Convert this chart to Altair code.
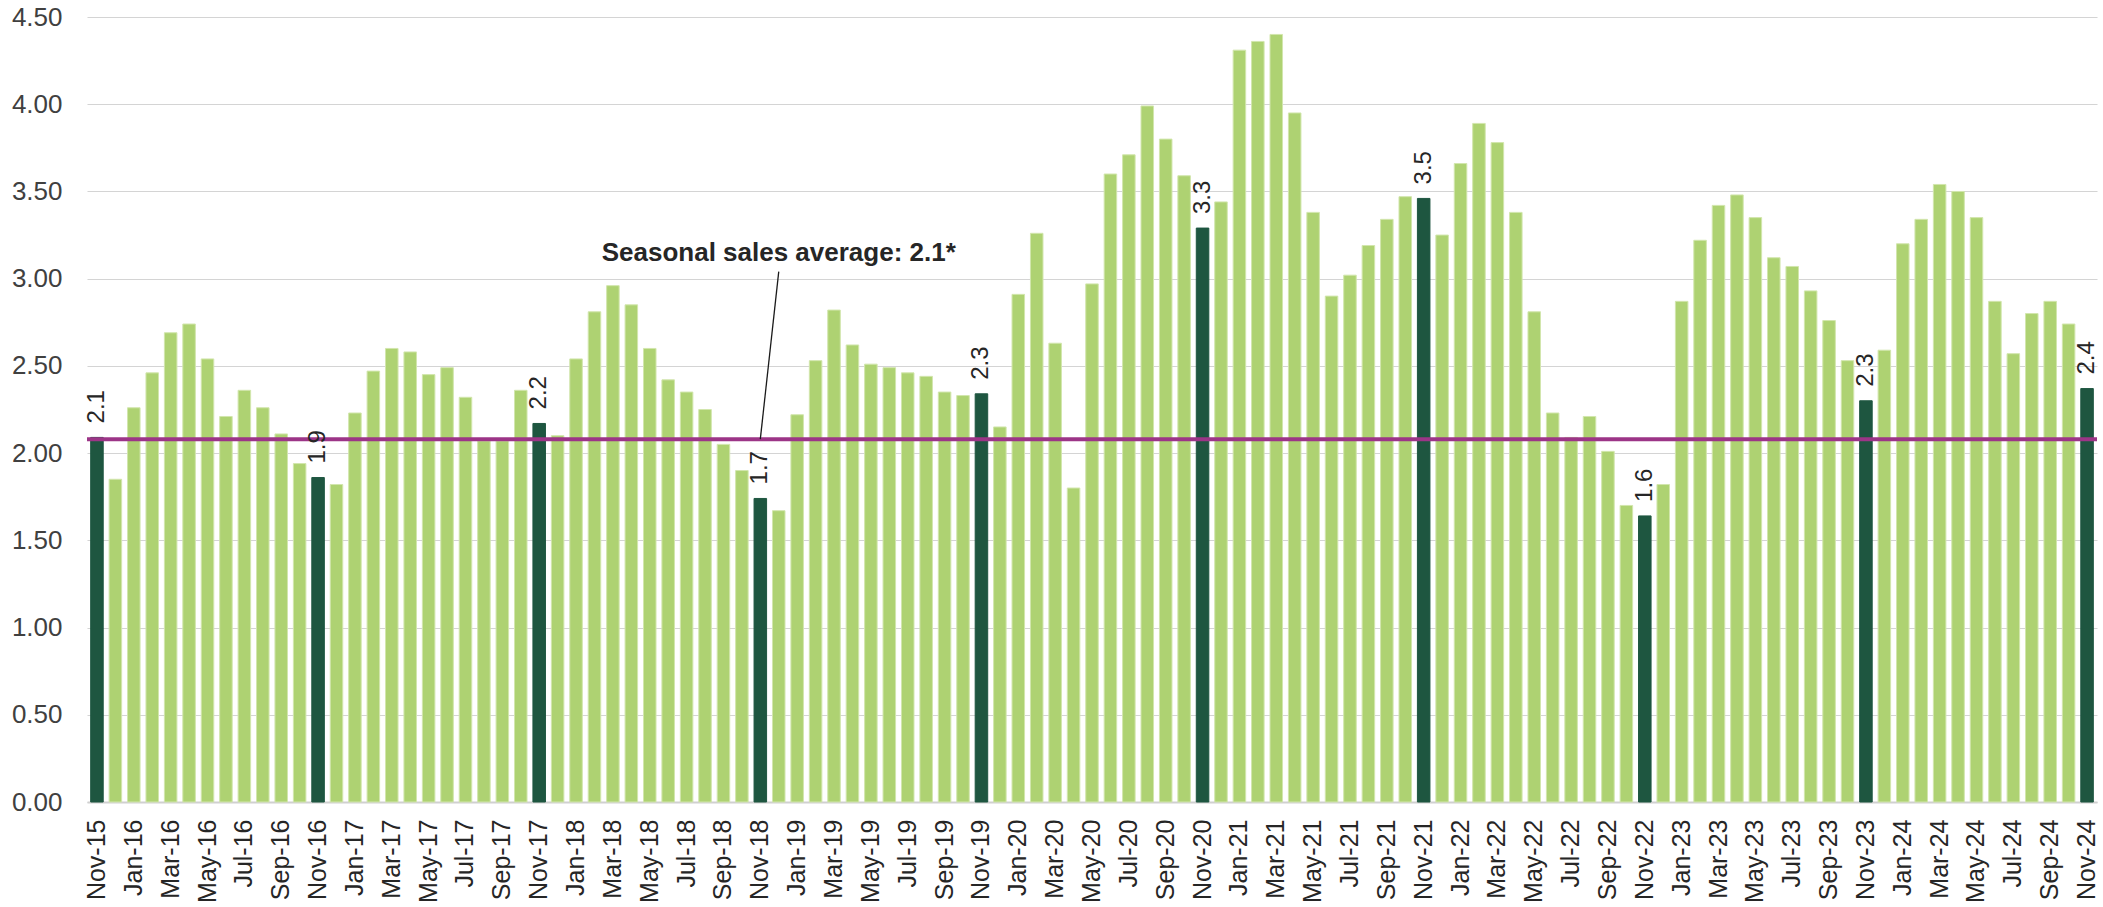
import altair as alt
import pandas as pd

MONTH_ABBR = ["Jan", "Feb", "Mar", "Apr", "May", "Jun",
              "Jul", "Aug", "Sep", "Oct", "Nov", "Dec"]

# Monthly seasonal sales, one list per calendar year (Nov-15 .. Nov-24)
sales_2015 = [2.09, 1.85]
sales_2016 = [2.26, 2.46, 2.69, 2.74, 2.54, 2.21, 2.36, 2.26, 2.11, 1.94, 1.86, 1.82]
sales_2017 = [2.23, 2.47, 2.60, 2.58, 2.45, 2.49, 2.32, 2.07, 2.07, 2.36, 2.17, 2.10]
sales_2018 = [2.54, 2.81, 2.96, 2.85, 2.60, 2.42, 2.35, 2.25, 2.05, 1.90, 1.74, 1.67]
sales_2019 = [2.22, 2.53, 2.82, 2.62, 2.51, 2.49, 2.46, 2.44, 2.35, 2.33, 2.34, 2.15]
sales_2020 = [2.91, 3.26, 2.63, 1.80, 2.97, 3.60, 3.71, 3.99, 3.80, 3.59, 3.29, 3.44]
sales_2021 = [4.31, 4.36, 4.40, 3.95, 3.38, 2.90, 3.02, 3.19, 3.34, 3.47, 3.46, 3.25]
sales_2022 = [3.66, 3.89, 3.78, 3.38, 2.81, 2.23, 2.09, 2.21, 2.01, 1.70, 1.64, 1.82]
sales_2023 = [2.87, 3.22, 3.42, 3.48, 3.35, 3.12, 3.07, 2.93, 2.76, 2.53, 2.30, 2.59]
sales_2024 = [3.20, 3.34, 3.54, 3.50, 3.35, 2.87, 2.57, 2.80, 2.87, 2.74, 2.37]

SEASONAL_AVERAGE = 2.08
AVERAGE_TEXT = "Seasonal sales average: 2.1*"
Y_TICKS = [0.0, 0.5, 1.0, 1.5, 2.0, 2.5, 3.0, 3.5, 4.0, 4.5]

years = {
    2015: sales_2015, 2016: sales_2016, 2017: sales_2017, 2018: sales_2018,
    2019: sales_2019, 2020: sales_2020, 2021: sales_2021, 2022: sales_2022,
    2023: sales_2023, 2024: sales_2024,
}

labels, values, is_nov = [], [], []
for year, vals in years.items():
    first = 10 if year == 2015 else 0
    for k, v in enumerate(vals):
        m = MONTH_ABBR[first + k]
        labels.append(f"{m}-{year % 100:02d}")
        values.append(v)
        is_nov.append(m == "Nov")

df = pd.DataFrame({"month": labels, "sales": values, "nov": is_nov})
tick_months = labels[::2]

FONT = "Liberation Sans"
LIGHT = "#AED272"
DARK = "#1E5640"
PURPLE = "#9C3587"
TEXT = "#262626"

x_enc = alt.X(
    "month:N",
    sort=labels,
    scale=alt.Scale(domain=labels, paddingInner=0.32, paddingOuter=0.2),
    axis=alt.Axis(
        title=None, values=tick_months, labelAngle=-90, ticks=False,
        labelFont=FONT, labelFontSize=25, labelColor=TEXT, labelPadding=17,
        domainColor="#d0d0d0", domainWidth=2, grid=False, labelOverlap=False,
    ),
)
y_scale = alt.Scale(domain=[0, 4.5], nice=False)

bars = alt.Chart(df).mark_bar(strokeWidth=1).encode(
    x=x_enc,
    y=alt.Y(
        "sales:Q", scale=y_scale,
        axis=alt.Axis(
            title=None, values=Y_TICKS, format=".2f", ticks=False, domain=False,
            labelFont=FONT, labelFontSize=26, labelColor="#404040", labelPadding=25,
            gridColor="#d4d4d4", gridWidth=1.2,
        ),
    ),
    fill=alt.condition(alt.datum.nov, alt.value(DARK), alt.value(LIGHT)),
    stroke=alt.condition(alt.datum.nov, alt.value(DARK), alt.value("#d2e6ad")),
)

avg_rule = alt.Chart(pd.DataFrame({"avg": [SEASONAL_AVERAGE]})).mark_rule(
    color=PURPLE, strokeWidth=4
).encode(y=alt.Y("avg:Q", scale=y_scale))

nov_labels = alt.Chart(df).transform_filter(alt.datum.nov).mark_text(
    angle=270, align="left", baseline="middle", dx=14,
    font=FONT, fontSize=24, color=TEXT,
).encode(
    x=x_enc,
    y=alt.Y("sales:Q", scale=y_scale),
    text=alt.Text("sales:Q", format=".1f"),
)

leader_df = pd.DataFrame({"month": ["Nov-18", "Dec-18"], "v": [SEASONAL_AVERAGE, 3.04]})
leader = alt.Chart(leader_df).mark_line(color="#1a1a1a", strokeWidth=1.3).encode(
    x=x_enc, y=alt.Y("v:Q", scale=y_scale)
)

note_df = pd.DataFrame({"month": ["Dec-18"], "v": [3.15], "t": [AVERAGE_TEXT]})
note = alt.Chart(note_df).mark_text(
    align="center", baseline="middle", font=FONT, fontSize=26,
    fontWeight="bold", color=TEXT,
).encode(x=x_enc, y=alt.Y("v:Q", scale=y_scale), text="t:N")

chart = alt.layer(bars, avg_rule, leader, nov_labels, note).properties(
    width=2010, height=785,
    autosize=alt.AutoSizeParams(type="none"),
    padding={"left": 87, "top": 17, "right": 6, "bottom": 105},
    background="white",
).configure_view(stroke=None)

chart.save("out.html", embed_options={"renderer": "svg", "actions": False})
